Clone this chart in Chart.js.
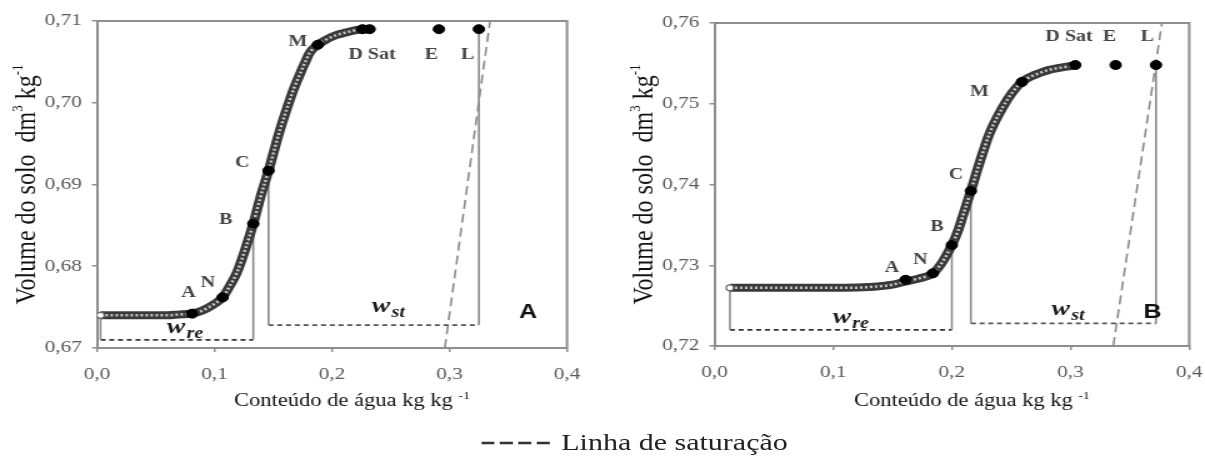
<!DOCTYPE html>
<html lang="pt">
<head>
<meta charset="utf-8">
<title>Curva de retração do solo</title>
<script src="https://cdn.jsdelivr.net/npm/chart.js@4.4.1/dist/chart.umd.min.js"></script>
<style>
  html, body { margin: 0; padding: 0; background: #fff; overflow: hidden; }
  body { width: 1205px; height: 460px; position: relative; }
  /* a figura inteira é esticada na horizontal */
  .folha { position: absolute; left: 0; top: 0; width: 964px; height: 460px; transform: scaleX(1.25); transform-origin: 0 0; }
  .painel { position: absolute; top: 0; width: 480px; height: 430px; }
  #painel-a { left: 0; }
  #painel-b { left: 494.4px; }
  .legenda { position: absolute; left: 385px; top: 429px; display: flex; align-items: center; white-space: nowrap;
             font: 24px "Liberation Serif", "Times New Roman", serif; color: #222; }
  .legenda svg { margin-right: 9px; }
</style>
</head>
<body>
<div class="folha">
  <div class="painel" id="painel-a"><canvas id="grfc-a"></canvas></div>
  <div class="painel" id="painel-b"><canvas id="grfc-b"></canvas></div>
  <div class="legenda">
    <svg width="55" height="6"><line x1="0" y1="3" x2="55" y2="3" stroke="#333" stroke-width="2.4" stroke-dasharray="10.5 4.3"/></svg>
    <span>Linha de saturação</span>
  </div>
</div>

<script>
/* ===================== DADOS ===================== */
const rotX = ['0,0', '0,1', '0,2', '0,3', '0,4'];

// amostra A
const rotYA = ['0,67', '0,68', '0,69', '0,70', '0,71'];
const umidadeA = [0.003, 0.01, 0.02, 0.03, 0.04, 0.05, 0.06, 0.07, 0.08, 0.09, 0.10, 0.107, 0.113, 0.119,
  0.126, 0.133, 0.139, 0.146, 0.151, 0.156, 0.160, 0.164, 0.168, 0.173, 0.177, 0.181, 0.188, 0.196,
  0.204, 0.212, 0.221, 0.232];
const volumeA = [0.6740, 0.6740, 0.6740, 0.6740, 0.6740, 0.6740, 0.6740, 0.6741, 0.6742, 0.6746, 0.6754,
  0.6762, 0.6776, 0.6792, 0.6820, 0.6852, 0.6884, 0.6917, 0.6943, 0.6968, 0.6986, 0.7003, 0.7019,
  0.7036, 0.7049, 0.7061, 0.7071, 0.7078, 0.7083, 0.7086, 0.7089, 0.7090];
const nomesA = ['A', 'N', 'B', 'C', 'M', 'D', 'Sat', 'E', 'L'];
const pontosA_x = [0.081, 0.107, 0.133, 0.146, 0.188, 0.226, 0.232, 0.291, 0.325];
const pontosA_y = [0.6742, 0.6762, 0.6852, 0.6917, 0.7071, 0.7090, 0.7090, 0.7090, 0.7090];
const saturacaoA_x = [0.296, 0.3345];
const saturacaoA_y = [0.670, 0.710];
const wreA = 0.6710;
const wstA = 0.6728;

// amostra B
const rotYB = ['0,72', '0,73', '0,74', '0,75', '0,76'];
const umidadeB = [0.013, 0.03, 0.05, 0.07, 0.09, 0.11, 0.13, 0.15, 0.161, 0.173, 0.184, 0.192, 0.200,
  0.205, 0.209, 0.216, 0.224, 0.232, 0.243, 0.251, 0.259, 0.267, 0.274, 0.282, 0.289, 0.297, 0.304];
const volumeB = [0.7272, 0.7272, 0.7272, 0.7272, 0.7272, 0.7272, 0.7273, 0.7276, 0.7280, 0.7284, 0.7290,
  0.7304, 0.7325, 0.7342, 0.7360, 0.7392, 0.7430, 0.7464, 0.7496, 0.7514, 0.7527, 0.7534, 0.7538,
  0.7542, 0.7544, 0.7546, 0.7548];
const nomesB = ['A', 'N', 'B', 'C', 'M', 'Sat', 'E', 'L'];
const pontosB_x = [0.161, 0.184, 0.200, 0.216, 0.259, 0.304, 0.338, 0.372];
const pontosB_y = [0.7282, 0.7290, 0.7325, 0.7392, 0.7527, 0.7548, 0.7548, 0.7548];
const saturacaoB_x = [0.336, 0.377];
const saturacaoB_y = [0.720, 0.760];
const wreB = 0.7220;
const wstB = 0.7228;

/* ===================== GRÁFICOS ===================== */
Chart.defaults.font.family = '"Liberation Serif", "Times New Roman", serif';
Chart.defaults.animation = false;

const corEixo = '#8e8e8e';

function segmento(xs, ys, cor, largura, traco, ordem) {
  return {
    data: xs.map((x, i) => ({ x, y: ys[i] })),
    showLine: true, borderColor: cor, borderWidth: largura, borderDash: traco,
    pointRadius: 0, order: ordem
  };
}

// escreve uma sequência de trechos [texto, tamanho, deslocamento] a partir de (x, y)
function escreverTrechos(ctx, trechos, x, y) {
  trechos.forEach(([txt, tam, dy]) => {
    ctx.font = tam + 'px "Liberation Serif"';
    ctx.fillText(txt, x, y + dy);
    x += ctx.measureText(txt).width;
  });
}
function larguraTrechos(ctx, trechos) {
  return trechos.reduce((s, [txt, tam]) => {
    ctx.font = tam + 'px "Liberation Serif"';
    return s + ctx.measureText(txt).width;
  }, 0);
}

const tituloY = [['Volume do solo  dm', 24, 0], ['3', 13, -10], [' kg', 24, 0], ['-1', 13, -10]];
const tituloX = [['Conteúdo de água kg kg ', 18, 0], ['-1', 11, -7]];

function criarPainel(idCanvas, p) {
  const pontos = p.px.map((x, i) => ({ x, y: p.py[i] }));
  const ponto = nome => pontos[p.nomes.indexOf(nome)];
  const curva = p.umidade.map((x, i) => ({ x, y: p.volume[i] }));
  const ini = curva[0];
  const pB = ponto('B'), pC = ponto('C'), pL = ponto('L');

  // textos desenhados por cima do gráfico
  const anotacoes = {
    id: 'anotacoes',
    afterDatasetsDraw(chart) {
      const { ctx, chartArea: a, scales: { x, y } } = chart;
      ctx.save();

      // moldura de cima e da direita
      ctx.strokeStyle = corEixo;
      ctx.lineWidth = 2;
      ctx.beginPath();
      ctx.moveTo(a.left, a.top);
      ctx.lineTo(a.right, a.top);
      ctx.lineTo(a.right, a.bottom);
      ctx.stroke();

      // nomes dos pontos
      ctx.font = 'bold 16px "Liberation Serif"';
      ctx.fillStyle = '#454545';
      ctx.textAlign = 'center';
      ctx.textBaseline = 'middle';
      p.rotulos.forEach(r => {
        const q = ponto(r.ponto);
        ctx.fillText(r.texto, x.getPixelForValue(q.x) + r.dx, y.getPixelForValue(q.y) + r.dy);
      });

      // w_re e w_st
      ctx.fillStyle = '#1a1a1a';
      ctx.textAlign = 'left';
      ctx.textBaseline = 'alphabetic';
      p.indices.forEach(w => {
        const px = x.getPixelForValue(w.x), py = y.getPixelForValue(w.y);
        ctx.font = 'bold italic 22px "Liberation Serif"';
        ctx.fillText('w', px, py);
        const larg = ctx.measureText('w').width;
        ctx.font = 'bold italic 16px "Liberation Serif"';
        ctx.fillText(w.sub, px + larg + 1, py + 5);
      });

      // letra do painel
      ctx.font = 'bold 20px "Liberation Sans"';
      ctx.fillStyle = '#111';
      ctx.textAlign = 'center';
      ctx.textBaseline = 'middle';
      ctx.fillText(p.letra, x.getPixelForValue(p.letraX), y.getPixelForValue(p.letraY));

      // títulos dos eixos
      ctx.fillStyle = '#111';
      ctx.textAlign = 'left';
      ctx.textBaseline = 'alphabetic';
      const lx = larguraTrechos(ctx, tituloX);
      escreverTrechos(ctx, tituloX, (a.left + a.right) / 2 + 16 - lx / 2, 406);

      const ly = larguraTrechos(ctx, tituloY);
      ctx.translate(28, (a.top + a.bottom) / 2);
      ctx.rotate(-Math.PI / 2);
      escreverTrechos(ctx, tituloY, -ly / 2, 0);
      ctx.restore();
    }
  };

  return new Chart(document.getElementById(idCanvas), {
    type: 'scatter',
    data: {
      datasets: [
        { data: pontos, pointRadius: 4.5, pointBackgroundColor: '#000', pointBorderColor: '#000', order: 0 },
        { data: [ini], pointRadius: 3, pointBackgroundColor: '#fff', pointBorderColor: '#666', pointBorderWidth: 1.2, order: 1 },
        { data: curva, showLine: true, borderColor: '#c6c6c6', borderWidth: 2.5, borderDash: [2, 2],
          pointRadius: 0, cubicInterpolationMode: 'monotone', order: 2 },
        { data: curva, showLine: true, borderColor: '#3a3a3a', borderWidth: 8,
          pointRadius: 0, cubicInterpolationMode: 'monotone', order: 3 },
        // linhas verticais
        segmento([ini.x, ini.x], [ini.y, p.wre], '#8a8a8a', 1.6, [], 4),
        segmento([pB.x, pB.x], [pB.y, p.wre], '#8a8a8a', 1.6, [], 4),
        segmento([pC.x, pC.x], [pC.y, p.wst], '#8a8a8a', 1.6, [], 4),
        segmento([pL.x, pL.x], [pL.y, p.wst], '#8a8a8a', 1.6, [], 4),
        // w_re e w_st
        segmento([ini.x, pB.x], [p.wre, p.wre], '#333', 1.6, [4, 3], 5),
        segmento([pC.x, pL.x], [p.wst, p.wst], '#555', 1.6, [4, 3], 5),
        // linha de saturação
        segmento(p.satX, p.satY, '#8a8a8a', 1.6, [9, 5], 5)
      ]
    },
    options: {
      responsive: true,
      maintainAspectRatio: false,
      layout: { padding: { top: p.topo, right: p.direita, left: 0, bottom: 0 } },
      plugins: { legend: { display: false }, tooltip: { enabled: false } },
      scales: {
        x: {
          type: 'linear', min: 0, max: 0.4,
          afterFit: s => { s.height = 430 - p.base; },
          border: { color: corEixo, width: 2 },
          grid: { drawOnChartArea: false, tickLength: 4, color: corEixo, lineWidth: 1.5 },
          ticks: { stepSize: 0.1, padding: 12, maxRotation: 0, color: '#5a5a5a', font: { size: 17 },
                   callback: (v, i) => rotX[i] }
        },
        y: {
          min: p.yMin, max: p.yMax,
          afterFit: s => { s.width = 77.6; },
          border: { color: corEixo, width: 2 },
          grid: { drawOnChartArea: false, tickLength: 4, color: corEixo, lineWidth: 1.5 },
          ticks: { stepSize: 0.01, padding: 8, color: '#5a5a5a', font: { size: 17 },
                   callback: (v, i) => p.rotY[i] }
        }
      }
    },
    plugins: [anotacoes]
  });
}

criarPainel('grfc-a', {
  umidade: umidadeA, volume: volumeA, nomes: nomesA, px: pontosA_x, py: pontosA_y,
  satX: saturacaoA_x, satY: saturacaoA_y, wre: wreA, wst: wstA, rotY: rotYA,
  yMin: 0.67, yMax: 0.71, topo: 21, direita: 26.4, base: 348,
  letra: 'A', letraX: 0.367, letraY: 0.6743,
  indices: [{ sub: 're', x: 0.0596, y: 0.6718 }, { sub: 'st', x: 0.234, y: 0.6744 }],
  rotulos: [
    { ponto: 'A', texto: 'A', dx: -3, dy: -21 },
    { ponto: 'N', texto: 'N', dx: -12, dy: -14 },
    { ponto: 'B', texto: 'B', dx: -22, dy: -4 },
    { ponto: 'C', texto: 'C', dx: -21, dy: -8 },
    { ponto: 'M', texto: 'M', dx: -16, dy: -3 },
    { ponto: 'Sat', texto: 'D Sat', dx: 2, dy: 26 },
    { ponto: 'E', texto: 'E', dx: -6, dy: 26 },
    { ponto: 'L', texto: 'L', dx: -9, dy: 26 }
  ]
});

criarPainel('grfc-b', {
  umidade: umidadeB, volume: volumeB, nomes: nomesB, px: pontosB_x, py: pontosB_y,
  satX: saturacaoB_x, satY: saturacaoB_y, wre: wreB, wst: wstB, rotY: rotYB,
  yMin: 0.72, yMax: 0.76, topo: 23, direita: 22.4, base: 346,
  letra: 'B', letraX: 0.369, letraY: 0.7242,
  indices: [{ sub: 're', x: 0.0996, y: 0.7228 }, { sub: 'st', x: 0.284, y: 0.7238 }],
  rotulos: [
    { ponto: 'A', texto: 'A', dx: -11, dy: -12 },
    { ponto: 'N', texto: 'N', dx: -10, dy: -13 },
    { ponto: 'B', texto: 'B', dx: -12, dy: -18 },
    { ponto: 'C', texto: 'C', dx: -12, dy: -16 },
    { ponto: 'M', texto: 'M', dx: -34, dy: 10 },
    { ponto: 'Sat', texto: 'D Sat', dx: -5, dy: -28 },
    { ponto: 'E', texto: 'E', dx: -5, dy: -28 },
    { ponto: 'L', texto: 'L', dx: -7, dy: -28 }
  ]
});
</script>
</body>
</html>
